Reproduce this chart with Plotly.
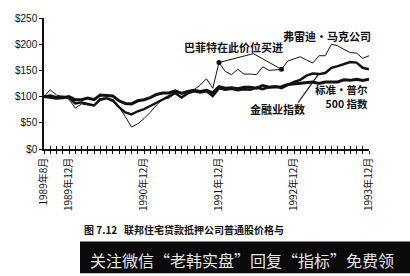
import plotly.graph_objects as go

# month index 0 = 1989年8月 ... 52 = 1993年12月
months = list(range(53))

freddie = [100, 113, 103, 100, 95, 78, 86, 84, 82, 92, 96, 90, 80, 62, 42,
           48, 58, 70, 84, 95, 97, 106, 100, 108, 113, 122, 134, 116, 165,
           148, 142, 152, 143, 143, 142, 157, 150, 151, 152, 168, 172, 176, 170,
           164, 178, 178, 200, 197, 190, 184, 183, 173, 178]

financial = [100, 102, 99, 100, 98, 87, 89, 86, 83, 95, 97, 93, 80, 70, 66,
             72, 76, 82, 88, 95, 100, 107, 98, 106, 110, 108, 110, 101, 116,
             113, 115, 112, 114, 113, 117, 114, 118, 120, 116, 122, 128, 132, 140,
             144, 143, 145, 155, 158, 162, 166, 165, 155, 152]

sp500 = [100, 99, 97, 98, 100, 94, 94, 97, 94, 103, 102, 101, 92, 87, 86,
         92, 94, 98, 104, 107, 107, 111, 106, 110, 112, 110, 112, 107, 119,
         116, 117, 115, 118, 118, 116, 121, 118, 119, 119, 123, 124, 125, 126,
         128, 125, 128, 128, 128, 132, 131, 133, 131, 133]

tick_months = [0, 4, 16, 28, 40, 52]
tick_labels = ["1989年8月", "1989年12月", "1990年12月", "1991年12月", "1992年12月", "1993年12月"]
y_ticks = [0, 50, 100, 150, 200, 250]
y_labels = ["$0", "$50", "$100", "$150", "$200", "$250"]

buy_months = [28, 38]
buy_peak = (33.5, 182)

W, H = 410, 276
L, R, T, B = 44, 41, 13, 127
pw, ph = W - L - R, H - T - B


def px(xp):
    return (xp - L) / pw


def py(yp):
    return (H - B - yp) / ph


CJK = "Noto Sans CJK SC"
ink = "#111111"

fig = go.Figure()
fig.add_trace(go.Scatter(x=months, y=freddie, mode="lines",
                         line=dict(color=ink, width=1), showlegend=False))
fig.add_trace(go.Scatter(x=months, y=financial, mode="lines",
                         line=dict(color=ink, width=2.4), showlegend=False))
fig.add_trace(go.Scatter(x=months, y=sp500, mode="lines",
                         line=dict(color=ink, width=3), showlegend=False))
# Buffett buy points
bx = [buy_months[0], buy_peak[0], buy_months[1]]
by = [freddie[buy_months[0]], buy_peak[1], freddie[buy_months[1]]]
fig.add_trace(go.Scatter(x=bx, y=by, mode="lines", line=dict(color=ink, width=1),
                         showlegend=False))
fig.add_trace(go.Scatter(x=buy_months, y=[freddie[m] for m in buy_months],
                         mode="markers", marker=dict(color=ink, size=5), showlegend=False))
# invisible trace for the inside ticks axis
fig.add_trace(go.Scatter(x=[0, 52], y=[0, 0], xaxis="x2", mode="lines",
                         line=dict(width=0), showlegend=False, hoverinfo="skip"))

fig.update_layout(
    width=W, height=H, margin=dict(l=L, r=R, t=T, b=B),
    paper_bgcolor="white", plot_bgcolor="white",
    font=dict(family="Arial, " + CJK, color=ink),
    xaxis=dict(range=[0, 52], tickvals=tick_months, ticktext=tick_labels,
               tickangle=-90, ticks="outside", ticklen=3, tickwidth=1, tickcolor=ink,
               minor=dict(dtick=1, tick0=0, ticks="outside", ticklen=3, tickcolor=ink),
               showline=True, linecolor=ink, linewidth=1.5, showgrid=False, zeroline=False,
               tickfont=dict(size=10, family=CJK, color=ink)),
    xaxis2=dict(range=[0, 52], overlaying="x", anchor="y", side="bottom",
                dtick=1, tick0=0, ticks="inside", ticklen=3, tickcolor=ink,
                showticklabels=False, showgrid=False, zeroline=False, showline=False),
    yaxis=dict(range=[0, 250], tickvals=y_ticks, ticktext=y_labels,
               ticks="outside", ticklen=3, tickcolor=ink,
               showline=True, linecolor=ink, linewidth=1.5, showgrid=False, zeroline=False,
               tickfont=dict(size=10, family="Arial Black, Arial", color=ink)),
)


def label(xp, yp, text, size=11, xanchor="center", color=ink, bold=True, align="center"):
    return dict(x=px(xp), y=py(yp), xref="paper", yref="paper",
                text=f"<b>{text}</b>" if bold else text, showarrow=False,
                xanchor=xanchor, yanchor="middle", align=align,
                font=dict(family=CJK, size=size, color=color))


ann = [
    label(327, 32, "弗雷迪・马克公司"),
    label(233, 43, "巴菲特在此价位买进"),
    label(277, 107, "金融业指数"),
    label(370, 94.5, "标准・普尔<br>500 指数", size=10.5, xanchor="right", align="right"),
    label(82, 233, "图 7.12   联邦住宅贷款抵押公司普通股价格与", size=10, xanchor="left"),
    label(88, 264, "关注微信“老韩实盘”回复“指标”免费领", size=16, xanchor="left",
          color="#e6e6e6", bold=False),
]

shapes = [
    dict(type="line", xref="paper", yref="paper", x0=px(298), y0=py(101), x1=px(318), y1=py(72),
         line=dict(color=ink, width=1.2)),
    dict(type="rect", xref="paper", yref="paper", x0=px(80), y0=py(245), x1=px(412), y1=py(278),
         fillcolor="#0a0a0a", line=dict(width=0), layer="below"),
]
fig.update_layout(annotations=ann, shapes=shapes)

fig.write_html("out.html")
